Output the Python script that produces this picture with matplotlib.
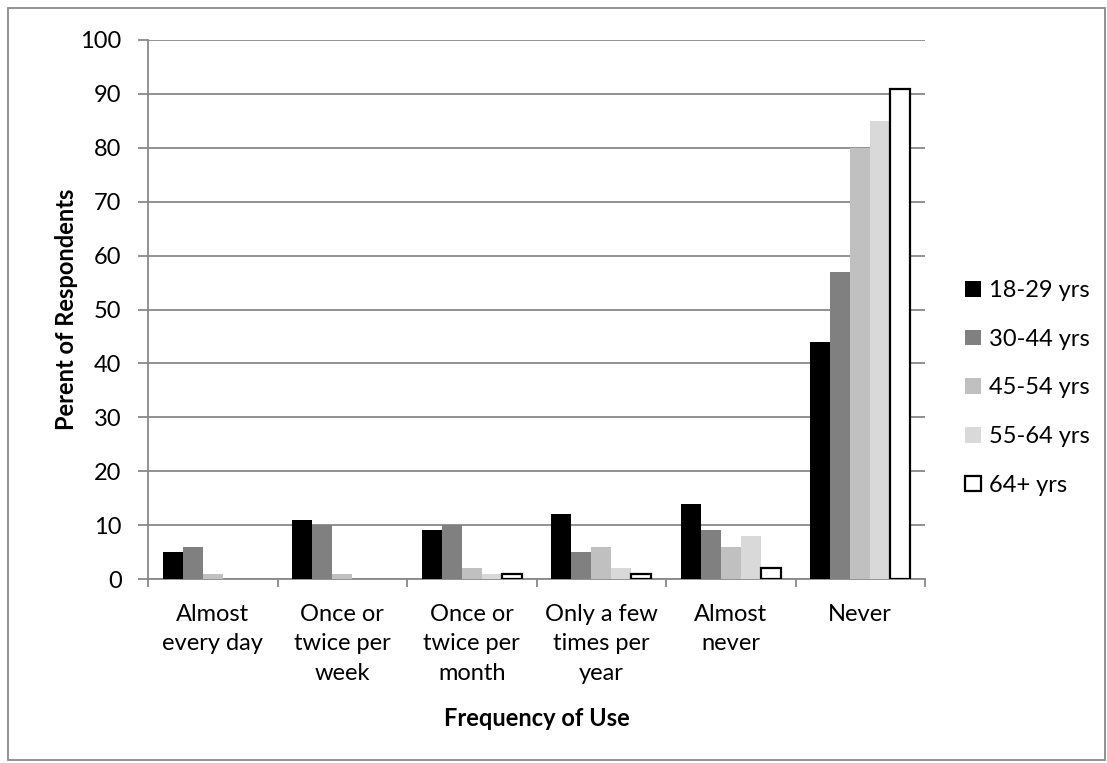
import numpy as np
import matplotlib.pyplot as plt
from matplotlib.patches import Rectangle

plt.rcParams['font.family'] = ['Lato', 'DejaVu Sans']

categories = ['Almost\nevery day', 'Once or\ntwice per\nweek', 'Once or\ntwice per\nmonth',
              'Only a few\ntimes per\nyear', 'Almost\nnever', 'Never']
groups = ['18-29 yrs', '30-44 yrs', '45-54 yrs', '55-64 yrs', '64+ yrs']
v18_29 = [5, 11, 9, 12, 14, 44]
v30_44 = [6, 10, 10, 5, 9, 57]
v45_54 = [1, 1, 2, 6, 6, 80]
v55_64 = [0, 0, 1, 2, 8, 85]
v64p = [0, 0, 1, 1, 2, 91]
series = [v18_29, v30_44, v45_54, v55_64, v64p]
colors = ['#000000', '#808080', '#c0c0c0', '#d9d9d9', '#ffffff']

fs = 17
fig = plt.figure(figsize=(11.07, 7.63), dpi=100)
ax = fig.add_axes([148 / 1107, 1 - 579 / 763, 777 / 1107, 539 / 763])

x = np.arange(len(categories))
w = 0.155
for i, (vals, c) in enumerate(zip(series, colors)):
    outlined = c == '#ffffff'
    ec = 'black' if outlined else c
    # no outline on empty bars, so zero values stay invisible
    lws = [1.6 if (outlined and v > 0) else 0 for v in vals]
    ax.bar(x + (i - 2) * w, vals, w, color=c, edgecolor=ec, linewidth=lws,
           label=groups[i], zorder=3)

ax.set_xlim(-0.5, len(categories) - 0.5)
ax.set_ylim(0, 100)
ax.set_yticks(np.arange(0, 101, 10))
ax.yaxis.grid(True, color='#898989', linewidth=1.3, zorder=0)
ax.set_xticks(x)
ax.set_xticklabels(categories, fontsize=fs, linespacing=1.5)
ax.set_xticks(np.arange(-0.5, len(categories), 1), minor=True)
ax.tick_params(axis='x', which='major', length=0, pad=18)
ax.tick_params(axis='x', which='minor', length=5.5, color='#898989', width=1.3)
ax.tick_params(axis='y', labelsize=fs, length=7, color='#898989', width=1.3, pad=12)
for s in ['top', 'right']:
    ax.spines[s].set_visible(False)
for s in ['left', 'bottom']:
    ax.spines[s].set_color('#898989')
    ax.spines[s].set_linewidth(1.3)

ax.set_ylabel('Perent of Respondents', fontsize=fs, fontweight='bold')
ax.yaxis.set_label_coords((67 - 148) / 777, (579 - 309) / 539)
ax.yaxis.label.set_va('center')
ax.set_xlabel('Frequency of Use', fontsize=fs, fontweight='bold')
ax.xaxis.set_label_coords(0.5, (579 - 718) / 539)
ax.xaxis.label.set_va('center')

leg = ax.legend(loc='center left', bbox_to_anchor=(1.052, (579 - 388) / 539),
                frameon=False, fontsize=fs, handlelength=0.65, handleheight=0.65,
                handletextpad=0.35, labelspacing=1.17, borderpad=0, borderaxespad=0)
leg.legend_handles[4].set_linewidth(1.6)
leg.legend_handles[4].set_edgecolor('black')

fig.patches.append(Rectangle((8 / 1107, 3 / 763), 1097 / 1107, 752 / 763,
                             transform=fig.transFigure, fill=False,
                             edgecolor='#898989', linewidth=1.3))

fig.savefig('out.png', dpi=100)
